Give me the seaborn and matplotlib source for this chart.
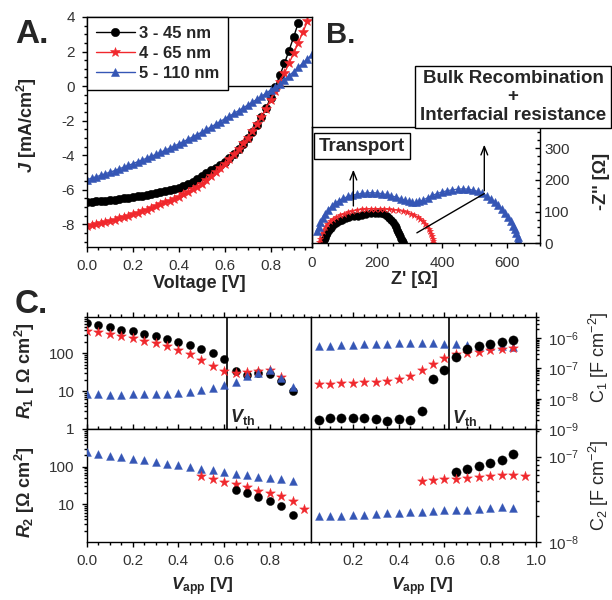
import seaborn as sns
import matplotlib.pyplot as plt
import matplotlib.ticker as mticker
import numpy as np

# --- estilo ---
sns.set_theme(style="ticks")
plt.rcParams.update({
    "font.family": ["Liberation Sans", "DejaVu Sans"],
    "font.size": 11,
    "axes.unicode_minus": False,
    "mathtext.fontset": "custom",
    "mathtext.rm": "Liberation Sans:bold",
    "mathtext.it": "Liberation Sans:italic:bold",
    "mathtext.bf": "Liberation Sans:bold",
    "axes.linewidth": 1.0,
    "axes.edgecolor": "black",
    "xtick.color": "black", "ytick.color": "black",
    "xtick.labelcolor": "#333333", "ytick.labelcolor": "#333333",
    "xtick.direction": "out", "ytick.direction": "out",
    "xtick.major.size": 3.8, "ytick.major.size": 3.8,
    "xtick.minor.size": 2.2, "ytick.minor.size": 2.2,
    "xtick.major.width": 1, "ytick.major.width": 1,
    "xtick.major.pad": 5, "ytick.major.pad": 5,
    "xtick.labelsize": 11, "ytick.labelsize": 11,
})

BLACK = "#000000"
RED = "#f0282d"
BLUE = "#3556b5"

# --- A: curvas J-V ---
volt = [0.00, 0.02, 0.04, 0.06, 0.08, 0.10, 0.12, 0.14, 0.16, 0.18,
        0.20, 0.22, 0.24, 0.26, 0.28, 0.30, 0.32, 0.34, 0.36, 0.38,
        0.40, 0.42, 0.44, 0.46, 0.48, 0.50, 0.52, 0.54, 0.56, 0.58,
        0.60, 0.62, 0.64, 0.66, 0.68, 0.70, 0.72, 0.74, 0.76, 0.78,
        0.80, 0.82, 0.84, 0.86, 0.88, 0.90, 0.92, 0.94, 0.96, 0.98]
j_45 = [-6.70, -6.68, -6.66, -6.64, -6.62, -6.60, -6.57, -6.54, -6.50, -6.46,
        -6.42, -6.38, -6.34, -6.30, -6.25, -6.19, -6.13, -6.07, -6.01, -5.95,
        -5.87, -5.78, -5.66, -5.52, -5.36, -5.20, -5.04, -4.88, -4.72, -4.55,
        -4.38, -4.16, -3.92, -3.66, -3.36, -3.03, -2.66, -2.24, -1.78, -1.26,
        -0.68, -0.05, 0.62, 1.32, 2.06, 2.84, 3.65]
j_65 = [-8.08, -8.03, -7.97, -7.91, -7.85, -7.79, -7.72, -7.65, -7.57, -7.49,
        -7.41, -7.32, -7.23, -7.14, -7.04, -6.94, -6.84, -6.73, -6.62, -6.51,
        -6.39, -6.26, -6.12, -5.98, -5.82, -5.65, -5.44, -5.22, -4.99, -4.75,
        -4.49, -4.22, -3.94, -3.64, -3.32, -2.98, -2.62, -2.21, -1.77, -1.30,
        -0.80, -0.30, 0.22, 0.76, 1.32, 1.90, 2.50, 3.12, 3.75]
j_110 = [-5.42, -5.33, -5.25, -5.16, -5.07, -4.98, -4.89, -4.79, -4.69, -4.59,
         -4.49, -4.38, -4.28, -4.17, -4.06, -3.95, -3.83, -3.71, -3.59, -3.47,
         -3.34, -3.21, -3.08, -2.94, -2.80, -2.66, -2.51, -2.36, -2.21, -2.05,
         -1.89, -1.74, -1.58, -1.42, -1.26, -1.10, -0.93, -0.76, -0.59, -0.41,
         -0.23, -0.05, 0.14, 0.37, 0.60, 0.84, 1.08, 1.33, 1.58, 1.83]
labels = ["3 - 45 nm", "4 - 65 nm", "5 - 110 nm"]

# --- B: Nyquist ---
zr_45 = [33, 36, 39, 43, 47, 52, 58, 65, 73, 82, 92, 103, 115, 128, 141, 154, 167, 180,
         192, 203, 213, 222, 230, 237, 243, 249, 254, 258, 262, 265, 268, 271, 274, 276, 278, 280]
zi_45 = [2, 9, 17, 25, 33, 41, 49, 57, 64, 70, 75, 79, 82, 85, 87, 90, 93, 96,
         97, 97, 95, 92, 87, 81, 74, 66, 58, 51, 43, 36, 29, 22, 15, 10, 5, 1]
zr_65 = [22, 25, 29, 34, 40, 47, 55, 64, 74, 85, 97, 110, 124, 138, 152, 166, 180, 194, 208, 222,
         236, 250, 264, 278, 291, 303, 314, 324, 333, 341, 348, 354, 359, 363, 366, 369, 371, 372, 373]
zi_65 = [3, 15, 28, 40, 51, 61, 70, 77, 83, 89, 94, 98, 102, 105, 107, 108, 109, 109, 109, 108,
         107, 106, 104, 101, 98, 94, 89, 83, 77, 70, 62, 54, 46, 38, 30, 22, 14, 7, 1]
zr_110 = [16, 20, 26, 33, 41, 50, 60, 71, 83, 96, 110, 124, 139, 154, 169, 184, 199, 214,
          229, 244, 258, 272, 285, 297, 308, 319, 330, 342, 355, 369, 384, 399, 415, 431,
          447, 463, 479, 494, 509, 523, 536, 549, 561, 572, 583, 593, 602, 610, 617, 622,
          627, 631, 633, 634]
zi_110 = [38, 52, 66, 80, 93, 106, 117, 127, 135, 142, 148, 152, 155, 158, 159, 160, 159, 157,
          154, 150, 146, 141, 136, 132, 129, 129, 132, 137, 144, 151, 157, 162, 166, 169,
          171, 172, 171, 168, 164, 158, 150, 141, 131, 120, 108, 95, 82, 69, 56, 44,
          32, 20, 10, 2]
# flechas / linea de anotacion (Z', -Z'')
arrow_transport = [(127, 109), (127, 241)]
arrow_bulk = [(529, 157), (529, 320)]
bulk_line = [(322, 33), (529, 157)]

# --- C: R1, R2, C1, C2 vs Vapp ---
v_all = [0.00, 0.05, 0.10, 0.15, 0.20, 0.25, 0.30, 0.35, 0.40, 0.45,
         0.50, 0.55, 0.60, 0.65, 0.70, 0.75, 0.80, 0.85, 0.90, 0.95]
r1_45 = [607, 560, 476, 415, 375, 326, 283, 236, 197, 165, 127, 100, 71, 33, 27, 30, 28, 18, 10]
r1_65 = [390, 354, 313, 278, 246, 210, 182, 155, 120, 94, 67, 45, 33, 30, 32, 34, 35, 24]
r1_110 = [8.5, 8.2, 8.0, 8.0, 8.2, 8.4, 8.4, 8.5, 9.1, 9.6, 10.6, 11.8, 14.4, 17.9, 24.6, 30, 35, 22, 13]
r2_110 = [240, 217, 196, 184, 163, 147, 133, 120, 111, 100, 88, 80, 72, 65, 59, 53, 49, 47, 42]
r2_65 = [58, 48, 38, 34, 28, 23, 20, 17, 12.3, 7.5]      # 0.50 .. 0.95
r2_45 = [24, 20.4, 16, 12.6, 9.2, 5.2]                     # 0.65 .. 0.90
c1_110 = [5.4e-7, 5.6e-7, 5.8e-7, 6.1e-7, 6.3e-7, 6.4e-7, 6.6e-7, 6.8e-7, 6.8e-7,
          7.0e-7, 6.8e-7, 6.6e-7, 6.3e-7, 6.0e-7, 5.6e-7, 5.5e-7, 5.4e-7, 5.2e-7]   # 0.05 .. 0.90
c1_65 = [3.0e-8, 3.1e-8, 3.2e-8, 3.3e-8, 3.5e-8, 3.7e-8, 3.9e-8, 4.6e-8, 5.8e-8,
         8.6e-8, 1.43e-7, 2.2e-7, 3.0e-7, 3.3e-7, 3.6e-7, 4.0e-7, 4.4e-7, 4.7e-7]
c1_45 = [2.0e-9, 2.3e-9, 2.3e-9, 2.3e-9, 2.3e-9, 2.2e-9, 1.8e-9, 2.1e-9, 2.0e-9,
         4.0e-9, 4.4e-8, 8.6e-8, 2.4e-7, 4.5e-7, 5.5e-7, 6.4e-7, 7.7e-7, 9.0e-7]
c2_45 = [6.6e-8, 7.2e-8, 7.8e-8, 8.4e-8, 9.2e-8, 1.08e-7]   # 0.65 .. 0.90
c2_65 = [5.2e-8, 5.3e-8, 5.4e-8, 5.5e-8, 5.6e-8, 5.8e-8, 5.9e-8, 6.0e-8, 6.1e-8, 5.9e-8]  # 0.50 .. 0.95
c2_110 = [2.0e-8, 2.0e-8, 2.04e-8, 2.06e-8, 2.08e-8, 2.1e-8, 2.17e-8, 2.2e-8, 2.22e-8,
          2.25e-8, 2.3e-8, 2.35e-8, 2.37e-8, 2.4e-8, 2.45e-8, 2.5e-8, 2.55e-8, 2.53e-8]
v_th_left = 0.612
v_th_right = 0.62

fig = plt.figure(figsize=(6.12, 6.0), dpi=100)


def rect(x0, y0, x1, y1):
    return [x0 / 612, 1 - y1 / 600, (x1 - x0) / 612, (y1 - y0) / 600]


ax_a = fig.add_axes(rect(87, 17, 312, 247))
ax_b = fig.add_axes(rect(312, 127, 540, 243.3))
ax_r1 = fig.add_axes(rect(87, 317, 311, 429))
ax_r2 = fig.add_axes(rect(87, 429, 311, 542))
ax_c1 = fig.add_axes(rect(311, 317, 536, 429))
ax_c2 = fig.add_axes(rect(311, 429, 536, 542))

# ---------------- A ----------------
styles = [(j_45, BLACK, "o", 6.0), (j_65, RED, "*", 7.5), (j_110, BLUE, "^", 5.5)]
for (j, col, mk, ms), lab in zip(styles, labels):
    sns.lineplot(x=volt[:len(j)], y=j, ax=ax_a, color=col, marker=mk, markersize=ms,
                 markeredgecolor=col, markeredgewidth=0.4, lw=1, sort=False,
                 estimator=None, label=lab)
ax_a.axhline(0, color="black", lw=1, zorder=0.5)
ax_a.set_xlim(0, 0.98)
ax_a.set_ylim(-9.31, 4)
ax_a.xaxis.set_major_locator(mticker.FixedLocator([0.0, 0.2, 0.4, 0.6, 0.8]))
ax_a.xaxis.set_major_formatter(mticker.FormatStrFormatter("%.1f"))
ax_a.xaxis.set_minor_locator(mticker.MultipleLocator(0.05))
ax_a.yaxis.set_major_locator(mticker.MultipleLocator(2))
ax_a.yaxis.set_minor_locator(mticker.MultipleLocator(0.5))
ax_a.set_xlabel("Voltage [V]", fontsize=13, fontweight="bold")
ax_a.set_ylabel(r"$J$ [mA/cm$^2$]", fontsize=13, fontweight="bold")
ax_a.xaxis.set_label_coords(0.5, -0.12)
ax_a.yaxis.set_label_coords(-0.215, 0.53)
leg = ax_a.legend(loc="upper left", bbox_to_anchor=(0, 1), borderaxespad=0, frameon=True,
                  fancybox=False, edgecolor="black", framealpha=1,
                  prop=dict(weight="bold", size=12), handlelength=2.3,
                  handletextpad=0.25, labelspacing=0.3, borderpad=0.55)
leg.get_frame().set_linewidth(1.0)

# ---------------- B ----------------
ax_b.set_facecolor("none")
b_styles = [(zr_45, zi_45, BLACK, "o", 5.5), (zr_65, zi_65, RED, "*", 5.0),
            (zr_110, zi_110, BLUE, "^", 5.5)]
for zr, zi, col, mk, ms in b_styles:
    sns.lineplot(x=zr, y=zi, ax=ax_b, color=col, marker=mk, markersize=ms,
                 markeredgecolor=col, markeredgewidth=0.4, lw=0.8, sort=False,
                 estimator=None)
ax_b.set_xlim(0, 700)
ax_b.set_ylim(0, 367)
ax_b.xaxis.set_major_locator(mticker.MultipleLocator(200))
ax_b.xaxis.set_minor_locator(mticker.MultipleLocator(50))
ax_b.yaxis.set_major_locator(mticker.MultipleLocator(100))
ax_b.yaxis.set_minor_locator(mticker.MultipleLocator(25))
ax_b.yaxis.tick_right()
ax_b.yaxis.set_label_position("right")
ax_b.tick_params(axis="y", which="both", direction="in", pad=3)
ax_b.set_xlabel("Z' [Ω]", fontsize=13, fontweight="bold")
ax_b.set_ylabel("-Z'' [Ω]", fontsize=13, fontweight="bold", rotation=90)
ax_b.xaxis.set_label_coords(0.45, -0.24)
ax_b.yaxis.set_label_coords(1.232, 0.53)
arrow_kw = dict(arrowstyle="->,head_length=0.55,head_width=0.22", color="black", lw=1)
ax_b.annotate("", xy=arrow_transport[1], xytext=arrow_transport[0], arrowprops=arrow_kw)
ax_b.annotate("", xy=arrow_bulk[1], xytext=arrow_bulk[0], arrowprops=arrow_kw)
ax_b.plot([p[0] for p in bulk_line], [p[1] for p in bulk_line], color="black", lw=1)

box_kw = dict(boxstyle="square,pad=0.25", fc="white", ec="black", lw=1)
fig.text(362 / 612, 1 - 146 / 600, "Transport", ha="center", va="center",
         fontsize=13.5, fontweight="bold", bbox=box_kw)
fig.text(513 / 612, 1 - 97 / 600, "Bulk Recombination\n+\nInterfacial resistance",
         ha="center", va="center", ma="center", linespacing=1.1,
         fontsize=13.5, fontweight="bold", bbox=box_kw)

# ---------------- C ----------------
def scat(ax, xs, ys, col, mk, s):
    sns.scatterplot(x=xs, y=ys, ax=ax, color=col, marker=mk, s=s,
                    edgecolor=col, linewidth=0.3, legend=False, zorder=3)

v_l = v_all[:19]
scat(ax_r1, v_l, r1_45, BLACK, "o", 34)
scat(ax_r1, v_l[:len(r1_65)], r1_65, RED, "*", 55)
scat(ax_r1, v_l, r1_110, BLUE, "^", 32)
scat(ax_r2, v_l, r2_110, BLUE, "^", 32)
scat(ax_r2, v_all[10:], r2_65, RED, "*", 55)
scat(ax_r2, v_all[13:19], r2_45, BLACK, "o", 34)

v_r = v_all[1:19]
scat(ax_c1, v_r, c1_110, BLUE, "^", 32)
scat(ax_c1, v_r, c1_65, RED, "*", 55)
scat(ax_c1, v_r, c1_45, BLACK, "o", 44)
scat(ax_c2, v_all[13:19], c2_45, BLACK, "o", 44)
scat(ax_c2, v_all[10:], c2_65, RED, "*", 55)
scat(ax_c2, v_r, c2_110, BLUE, "^", 32)

for ax in (ax_r1, ax_r2, ax_c1, ax_c2):
    ax.set_yscale("log")
    ax.xaxis.set_major_locator(mticker.MultipleLocator(0.2))
    ax.xaxis.set_major_formatter(mticker.FormatStrFormatter("%.1f"))
    ax.xaxis.set_minor_locator(mticker.MultipleLocator(0.05))
    ax.yaxis.set_minor_locator(mticker.LogLocator(base=10, subs=np.arange(2, 10) * 1.0, numticks=20))
    ax.yaxis.set_minor_formatter(mticker.NullFormatter())
    ax.tick_params(axis="x", which="both", top=True)

for ax in (ax_r1, ax_r2):
    ax.set_xlim(0, 0.98)
for ax in (ax_c1, ax_c2):
    ax.set_xlim(0.017, 1.0)
    ax.yaxis.tick_right()
    ax.yaxis.set_label_position("right")

ax_r1.set_ylim(1, 900)
ax_r1.set_yticks([1, 10, 100], labels=["1", "10", "100"])
ax_r2.set_ylim(1, 1000)
ax_r2.set_yticks([10, 100], labels=["10", "100"])
ax_c1.set_ylim(1e-9, 5e-6)
ax_c1.set_yticks([1e-9, 1e-8, 1e-7, 1e-6])
ax_c2.set_ylim(1e-8, 2.1e-7)
ax_c2.set_yticks([1e-8, 1e-7])
for ax in (ax_c1, ax_c2):
    ax.yaxis.set_major_formatter(mticker.LogFormatterSciNotation())
    ax.yaxis.set_minor_formatter(mticker.NullFormatter())

ax_r1.tick_params(axis="x", labelbottom=False)
ax_c1.tick_params(axis="x", labelbottom=False)

ax_r1.axvline(v_th_left, color="black", lw=1.2)
ax_c1.axvline(v_th_right, color="black", lw=1.2)
ax_r1.text(v_th_left + 0.012, 1.1, r"$V_{\mathrm{th}}$", fontsize=13, va="bottom", ha="left")
ax_c1.text(v_th_right + 0.015, 1.1e-9, r"$V_{\mathrm{th}}$", fontsize=13, va="bottom", ha="left")

ax_r1.set_ylabel(r"$R_1$ [ Ω cm$^2$]", fontsize=13, fontweight="bold")
ax_r2.set_ylabel(r"$R_2$ [Ω cm$^2$]", fontsize=13, fontweight="bold")
ax_r1.yaxis.set_label_coords(-0.223, 0.52)
ax_r2.yaxis.set_label_coords(-0.223, 0.44)
ax_c1.set_ylabel(r"$\mathdefault{C_1}$ [F cm$\mathdefault{^{-2}}$]", fontsize=13)
ax_c2.set_ylabel(r"$\mathdefault{C_2}$ [F cm$\mathdefault{^{-2}}$]", fontsize=13)
ax_c1.yaxis.set_label_coords(1.227, 0.64)
ax_c2.yaxis.set_label_coords(1.227, 0.50)
ax_r2.set_xlabel(r"$V_{\mathrm{app}}$ [V]", fontsize=12.5, fontweight="bold")
ax_c2.set_xlabel(r"$V_{\mathrm{app}}$ [V]", fontsize=12.5, fontweight="bold")
ax_r2.xaxis.set_label_coords(0.513, -0.295)
ax_c2.xaxis.set_label_coords(0.495, -0.295)

# --- letras de panel ---
fig.text(15 / 612, 1 - 43 / 600, "A.", fontsize=24, fontweight="bold", va="baseline")
fig.text(326 / 612, 1 - 43 / 600, "B.", fontsize=21, fontweight="bold", va="baseline")
fig.text(15 / 612, 1 - 313 / 600, "C.", fontsize=24, fontweight="bold", va="baseline")

fig.savefig("out.png", dpi=100)
